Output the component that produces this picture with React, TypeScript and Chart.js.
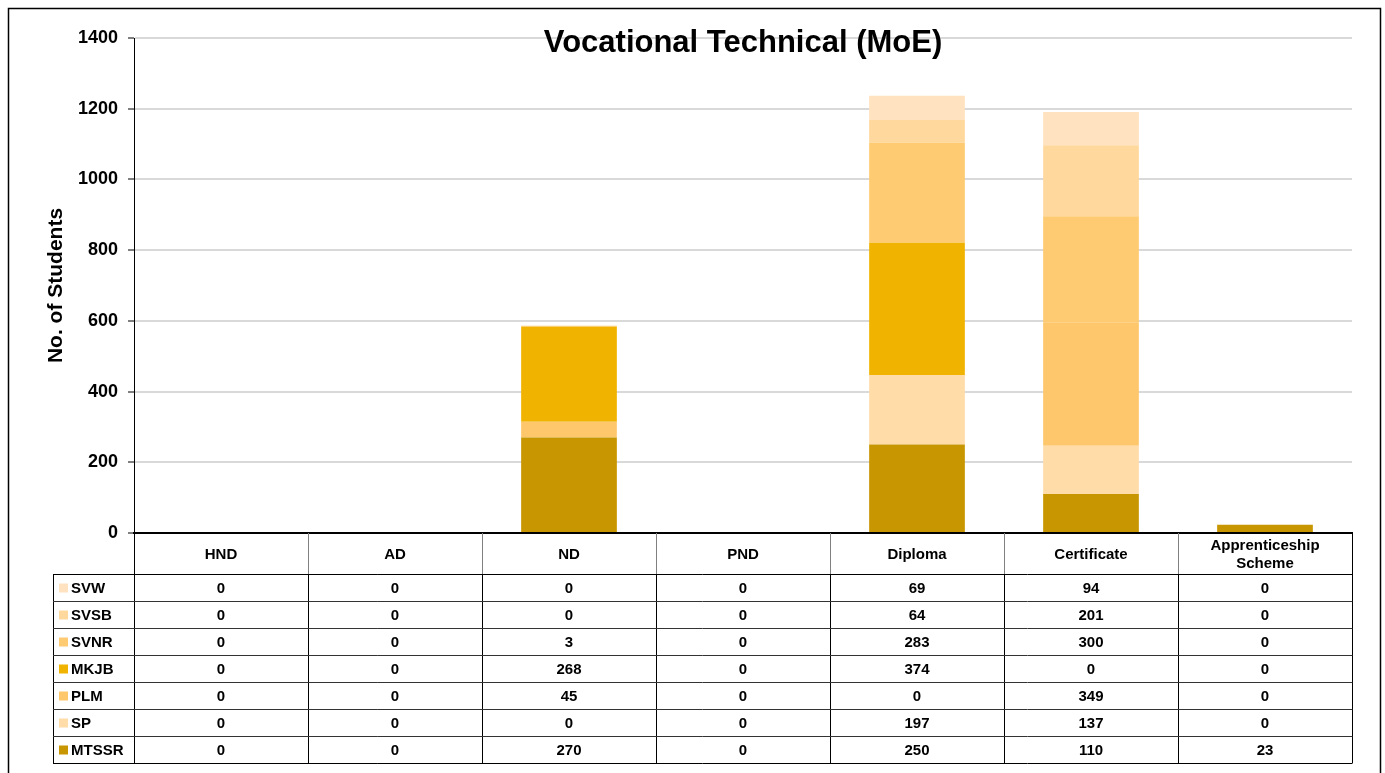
import React, { useEffect, useRef } from 'react';
import { Chart, registerables } from 'chart.js';

Chart.register(...registerables);

const FONT = "'Liberation Sans', Arial, sans-serif";

const chartTitle = 'Vocational Technical (MoE)';
const yAxisTitle = 'No. of Students';

const categories: (string | string[])[] = ['HND', 'AD', 'ND', 'PND', 'Diploma', 'Certificate', ['Apprenticeship', 'Scheme']];

// stack order: bottom to top
const seriesNames = ['MTSSR', 'SP', 'PLM', 'MKJB', 'SVNR', 'SVSB', 'SVW'];
const MTSSR = [0, 0, 270, 0, 250, 110, 23];
const SP = [0, 0, 0, 0, 197, 137, 0];
const PLM = [0, 0, 45, 0, 0, 349, 0];
const MKJB = [0, 0, 268, 0, 374, 0, 0];
const SVNR = [0, 0, 3, 0, 283, 300, 0];
const SVSB = [0, 0, 0, 0, 64, 201, 0];
const SVW = [0, 0, 0, 0, 69, 94, 0];
const seriesValues = [MTSSR, SP, PLM, MKJB, SVNR, SVSB, SVW];
const seriesColors = ['#C89600', '#FFDCA8', '#FFC76C', '#F0B400', '#FFCB72', '#FFD89E', '#FFE2C0'];

const yMin = 0;
const yMax = 1400;
const yStep = 200;

const tablePlugin = {
  id: 'dataTable',
  afterDraw(chart: any) {
    const { ctx, chartArea } = chart;
    const n = categories.length;
    const colW = (chartArea.right - chartArea.left) / n;
    const top = chartArea.bottom;
    const headerH = 41;
    const rowH = 27;
    const labelLeft = 53;
    const left = chartArea.left;
    const right = chartArea.right;
    const rowsTop = top + headerH;
    const nRows = seriesNames.length;
    const bottom = rowsTop + rowH * nRows;

    ctx.save();
    // title
    ctx.fillStyle = '#000';
    ctx.font = `bold 31px ${FONT}`;
    ctx.textAlign = 'center';
    ctx.textBaseline = 'alphabetic';
    ctx.fillText(chartTitle, (chartArea.left + chartArea.right) / 2, 52);

    // header verticals
    ctx.lineWidth = 1;
    for (let i = 0; i <= n; i++) {
      const x = Math.round(left + i * colW) + 0.5;
      ctx.strokeStyle = i === 0 || i === n ? '#000' : '#808080';
      ctx.beginPath();
      ctx.moveTo(x, top);
      ctx.lineTo(x, rowsTop);
      ctx.stroke();
    }
    // body verticals
    ctx.strokeStyle = '#000';
    for (let i = 0; i <= n; i++) {
      const x = Math.round(left + i * colW) + 0.5;
      ctx.beginPath();
      ctx.moveTo(x, rowsTop);
      ctx.lineTo(x, bottom);
      ctx.stroke();
    }
    ctx.beginPath();
    ctx.moveTo(labelLeft + 0.5, rowsTop);
    ctx.lineTo(labelLeft + 0.5, bottom);
    ctx.stroke();
    // horizontals
    for (let r = 0; r <= nRows; r++) {
      const y = Math.round(rowsTop + r * rowH) + 0.5;
      ctx.strokeStyle = r === 0 || r === nRows ? '#000' : '#333';
      ctx.beginPath();
      ctx.moveTo(labelLeft, y);
      ctx.lineTo(right + 0.5, y);
      ctx.stroke();
    }

    // header text
    ctx.fillStyle = '#000';
    ctx.font = `bold 15px ${FONT}`;
    ctx.textAlign = 'center';
    ctx.textBaseline = 'middle';
    for (let i = 0; i < n; i++) {
      const cx = left + (i + 0.5) * colW;
      const cat = categories[i];
      const lines = Array.isArray(cat) ? cat : [cat];
      const lh = 18;
      const cy = top + headerH / 2 + 1;
      lines.forEach((t, k) => {
        ctx.fillText(t, cx, cy + (k - (lines.length - 1) / 2) * lh);
      });
    }

    // body rows (top row = last series)
    for (let r = 0; r < nRows; r++) {
      const si = nRows - 1 - r;
      const cy = rowsTop + r * rowH + rowH / 2 + 1;
      ctx.fillStyle = seriesColors[si];
      ctx.fillRect(labelLeft + 6, cy - 5, 9, 9);
      ctx.fillStyle = '#000';
      ctx.textAlign = 'left';
      ctx.fillText(seriesNames[si], labelLeft + 18, cy);
      ctx.textAlign = 'center';
      for (let i = 0; i < n; i++) {
        const cx = left + (i + 0.5) * colW;
        ctx.fillText(String(seriesValues[si][i]), cx, cy);
      }
    }

    // outer border
    ctx.strokeStyle = '#000';
    ctx.lineWidth = 1.5;
    ctx.beginPath();
    ctx.moveTo(8.5, 800);
    ctx.lineTo(8.5, 8.5);
    ctx.lineTo(1380.5, 8.5);
    ctx.lineTo(1380.5, 800);
    ctx.stroke();
    ctx.restore();
  },
};

export default function App() {
  const canvasRef = useRef<HTMLCanvasElement | null>(null);

  useEffect(() => {
    const canvas = canvasRef.current;
    if (!canvas) return;
    const chart = new Chart(canvas, {
      type: 'bar',
      data: {
        labels: categories as any,
        datasets: seriesNames.map((name, i) => ({
          label: name,
          data: seriesValues[i],
          backgroundColor: seriesColors[i],
          borderWidth: 0,
          categoryPercentage: 1,
          barPercentage: 0.55,
        })),
      },
      options: {
        animation: false,
        responsive: false,
        devicePixelRatio: 1,
        layout: { padding: { left: 0, top: 38, right: 33, bottom: 240 } },
        plugins: {
          legend: { display: false },
          tooltip: { enabled: false },
          title: { display: false },
        },
        scales: {
          x: {
            stacked: true,
            ticks: { display: false },
            grid: { display: false },
            border: { display: true, color: '#000', width: 2 },
            afterFit: (scale: any) => {
              scale.height = 0;
            },
          },
          y: {
            stacked: true,
            min: yMin,
            max: yMax,
            ticks: {
              stepSize: yStep,
              padding: 10,
              color: '#000',
              font: { family: FONT, size: 18, weight: 'bold' },
              callback: (v: any) => String(v),
            },
            grid: {
              color: '#D9D9D9',
              lineWidth: 2,
              tickColor: '#000',
              tickLength: 6,
              tickWidth: 1,
            },
            border: { display: true, color: '#000', width: 1 },
            title: {
              display: true,
              text: yAxisTitle,
              color: '#000',
              font: { family: FONT, size: 21, weight: 'bold' },
              padding: { top: 44, bottom: 0 },
            },
            afterFit: (scale: any) => {
              scale.width = 134;
            },
          },
        },
      },
      plugins: [tablePlugin],
    });
    return () => chart.destroy();
  }, []);

  return (
    <div style={{ position: 'fixed', left: 0, top: 0, width: 1385, height: 773, background: '#fff' }}>
      <canvas ref={canvasRef} width={1385} height={773} style={{ display: 'block' }} />
    </div>
  );
}
